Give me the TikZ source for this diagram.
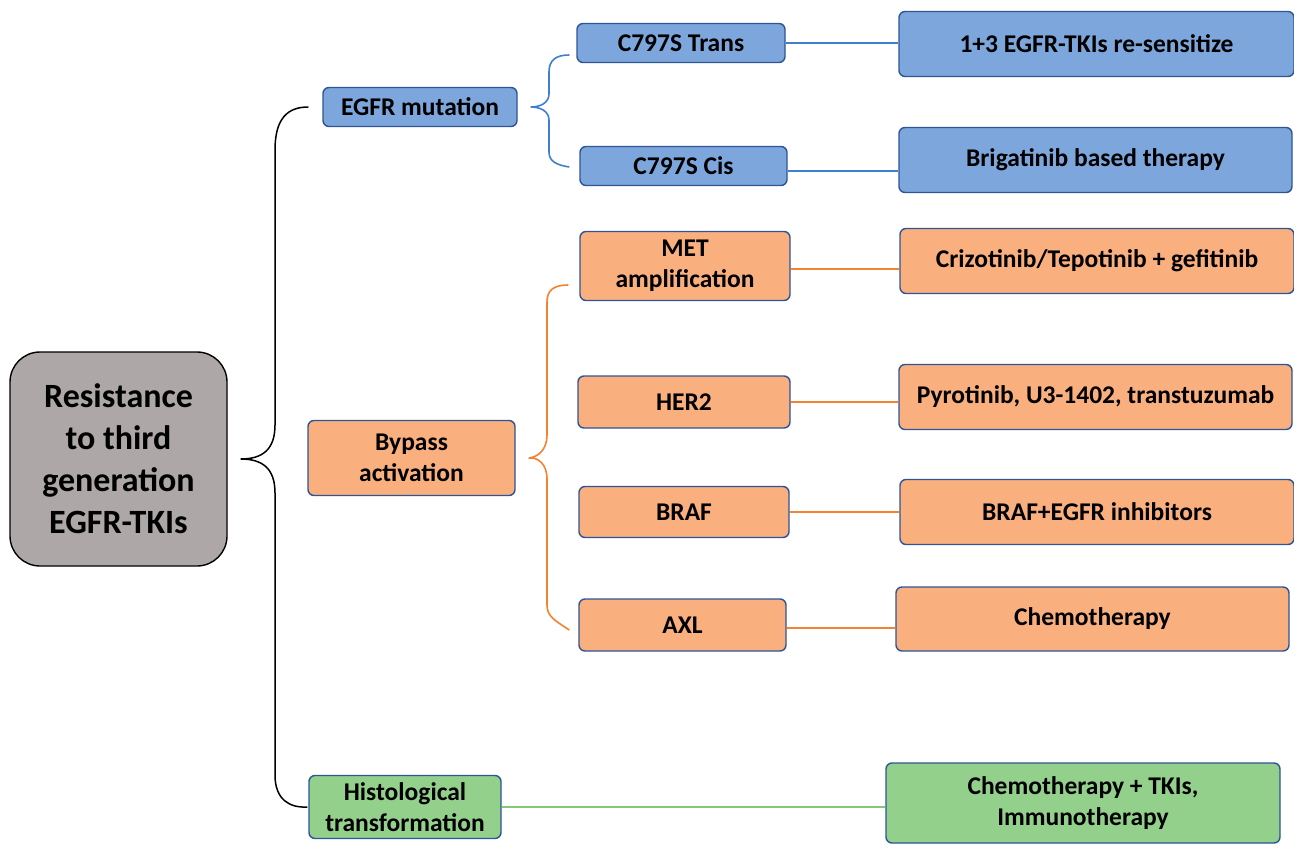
\documentclass[tikz,border=0pt]{standalone}
\usepackage{fontspec}
\setmainfont{Carlito}
\definecolor{bluefill}{HTML}{7DA7DC}
\definecolor{blueline}{HTML}{3F7FCF}
\definecolor{boxborder}{HTML}{2F5597}
\definecolor{orangefill}{HTML}{FAAF7F}
\definecolor{orangeline}{HTML}{F5822F}
\definecolor{greenfill}{HTML}{93D08B}
\definecolor{greenline}{HTML}{84C873}
\definecolor{grayfill}{HTML}{ADA8A7}
\begin{document}
\begin{tikzpicture}[x=1pt,y=-1pt,
  box/.style={draw=boxborder,line width=1.4pt,rounded corners=6pt,align=center,
    font=\fontsize{25.5}{31}\selectfont\bfseries,inner sep=0pt},
  bluebox/.style={box,fill=bluefill},
  orangebox/.style={box,fill=orangefill},
  greenbox/.style={box,fill=greenfill},
  rootbox/.style={draw=black,line width=1.4pt,rounded corners=30pt,fill=grayfill,align=center,
    font=\fontsize{34}{42}\selectfont\bfseries,inner sep=0pt},
  blink/.style={draw=blueline,line width=1.6pt},
  olink/.style={draw=orangeline,line width=1.6pt},
  glink/.style={draw=greenline,line width=1.6pt},
  klink/.style={draw=black,line width=1.5pt}]
\useasboundingbox (0,0) rectangle (1294,845);
% root
\node[rootbox,minimum width=217pt,minimum height=214pt] (root) at (118.5,459) {Resistance\\to third\\generation\\EGFR-TKIs};
% level 1
\node[bluebox,minimum width=194pt,minimum height=39pt] (egfr) at (420,107) {EGFR mutation};
\node[orangebox,minimum width=207pt,minimum height=75pt] (bypass) at (411.5,458) {Bypass\\activation};
\node[greenbox,minimum width=192pt,minimum height=63pt] (histo) at (405,807) {Histological\\transformation};
% level 2
\node[bluebox,minimum width=208pt,minimum height=39pt] (trans) at (681,43) {C797S Trans};
\node[bluebox,minimum width=207pt,minimum height=39pt] (cis) at (683.5,166) {C797S Cis};
\node[orangebox,minimum width=210pt,minimum height=69pt] (met) at (685,266) {MET\\amplification};
\node[orangebox,minimum width=212pt,minimum height=52pt] (her2) at (684,402) {HER2};
\node[orangebox,minimum width=210pt,minimum height=51pt] (braf) at (684,512) {BRAF};
\node[orangebox,minimum width=207pt,minimum height=52pt] (axl) at (682.5,625) {AXL};
% level 3
\node[bluebox,minimum width=395pt,minimum height=65pt] (t1) at (1096.5,44) {1+3 EGFR-TKIs re-sensitize};
\node[bluebox,minimum width=393pt,minimum height=65pt] (t2) at (1095.5,160) {Brigatinib based therapy};
\node[orangebox,minimum width=394pt,minimum height=65pt] (t3) at (1097,261) {Crizotinib/Tepotinib + gefitinib};
\node[orangebox,minimum width=393pt,minimum height=65pt] (t4) at (1095.5,397) {Pyrotinib, U3-1402, transtuzumab};
\node[orangebox,minimum width=394pt,minimum height=65pt] (t5) at (1097,512) {BRAF+EGFR inhibitors};
\node[orangebox,minimum width=393pt,minimum height=64pt] (t6) at (1092.5,619) {Chemotherapy};
\node[greenbox,minimum width=394pt,minimum height=80pt] (t7) at (1083,803) {Chemotherapy + TKIs,\\Immunotherapy};
% big brace
\coordinate (btip) at ([xshift=13pt]root.east);
\draw[klink] ([xshift=-14pt]egfr.west) .. controls (288,107) and (275,118) .. (275,150)
  -- (275,425) .. controls (275,450) and (262,459) .. (btip)
  .. controls (262,459) and (275,468) .. (275,493)
  -- (275,775) .. controls (275,800) and (290,808) .. ([xshift=-1pt]histo.west);
% blue brace
\coordinate (ctip) at ([xshift=13pt]egfr.east);
\draw[blink] ([xshift=-7pt,yshift=-12pt]trans.west) .. controls (556,55) and (549,60) .. (549,72)
  -- (549,94) .. controls (549,103) and (540,107) .. (ctip)
  .. controls (540,107) and (549,111) .. (549,120)
  -- (549,152) .. controls (549,161) and (556,165) .. ([xshift=-10pt,yshift=-1pt]cis.west);
% orange brace
\coordinate (otip) at ([xshift=13pt]bypass.east);
\draw[olink] ([xshift=-11pt,yshift=-19pt]met.west) .. controls (554,285) and (547,290) .. (547,302)
  -- (547,435) .. controls (547,450) and (538,457) .. (otip)
  .. controls (538,457) and (547,464) .. (547,479)
  -- (547,605) .. controls (547,616) and (554,620) .. ([xshift=-9pt,yshift=-5pt]axl.west);
% connectors
\draw[blink] (trans.east) -- (trans.east -| t1.west);
\draw[blink] ([yshift=-5pt]cis.east) -- ([yshift=-5pt]cis.east -| t2.west);
\draw[olink] ([yshift=-3pt]met.east) -- ([yshift=-3pt]met.east -| t3.west);
\draw[olink] (her2.east) -- (her2.east -| t4.west);
\draw[olink] (braf.east) -- (braf.east -| t5.west);
\draw[olink] ([yshift=-3pt]axl.east) -- ([yshift=-3pt]axl.east -| t6.west);
\draw[glink] (histo.east) -- (histo.east -| t7.west);
\end{tikzpicture}
\end{document}
